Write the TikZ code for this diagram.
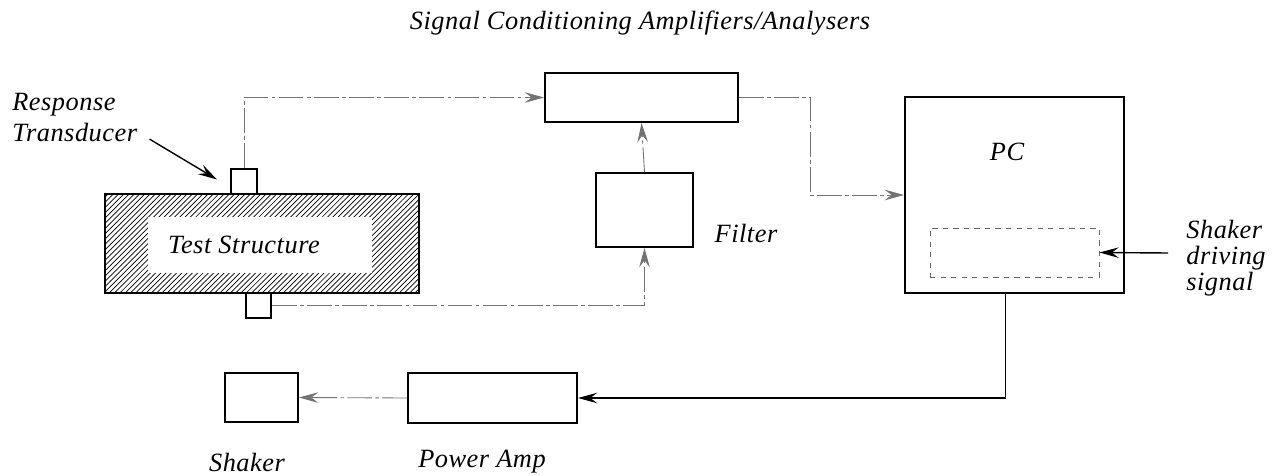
\documentclass[tikz,border=0pt]{standalone}
\usepackage{fontspec}
\setmainfont{Liberation Serif}[LetterSpace=2]
\usetikzlibrary{arrows.meta,patterns,calc}

\tikzset{
  box/.style={draw=black, line width=1.1pt, rectangle, inner sep=0pt},
  sig/.style={draw=black!55, line width=0.5pt, dash pattern=on 14pt off 2pt on 2pt off 2pt},
  lbl/.style={font=\fontsize{15}{17}\selectfont\itshape, inner sep=0pt},
  tip/.style={-{Stealth[length=11pt,width=6pt,inset=4pt]}}
}

\begin{document}
\begin{tikzpicture}[x=0.02cm,y=-0.02cm]
  \useasboundingbox (0,0) rectangle (1273,476);

  % title
  \node[lbl] (title) at (640,23) {Signal Conditioning Amplifiers/Analysers};

  % test structure with transducers
  \node[box, pattern=north east lines, minimum width=314*0.02cm, minimum height=99*0.02cm] (test) at (262,243.5) {};
  \node[fill=white, minimum width=224*0.02cm, minimum height=56*0.02cm] (core) at (260,245) {};
  \node[lbl] (testlbl) at (244,245) {Test Structure};
  \node[box, fill=white, minimum width=26*0.02cm, minimum height=25*0.02cm] (trtop) at (244,181.5) {};
  \node[box, fill=white, minimum width=25*0.02cm, minimum height=25*0.02cm] (trbot) at (258.5,305.5) {};
  \node[lbl, align=left, anchor=west, font=\fontsize{15}{17.6}\selectfont\itshape] (resp) at (12,117.5) {Response\\Transducer};

  % signal conditioning and filter
  \node[box, minimum width=193*0.02cm, minimum height=49*0.02cm] (sca) at (641.5,97.5) {};
  \node[box, minimum width=97*0.02cm, minimum height=74*0.02cm] (filter) at (644.5,210) {};
  \node[lbl] (filterlbl) at (746,233) {Filter};

  % PC
  \node[box, minimum width=219*0.02cm, minimum height=196*0.02cm] (pc) at (1014.5,195) {};
  \node[lbl] (pclbl) at (1007,152) {PC};
  \node[draw=black!60, line width=0.5pt, dashed, minimum width=169*0.02cm, minimum height=49*0.02cm] (pcdrv) at (1014.5,252.5) {};
  \node[lbl, align=left, anchor=west, font=\fontsize{15}{14.8}\selectfont\itshape] (drvlbl) at (1186,258) {Shaker\\driving\\signal};
  \coordinate (drvin) at (1168,253);

  % power amp and shaker
  \node[box, minimum width=169*0.02cm, minimum height=50*0.02cm] (amp) at (492.5,398) {};
  \node[lbl] (amplbl) at (482,462) {Power Amp};
  \node[box, minimum width=73*0.02cm, minimum height=49*0.02cm] (shaker) at (261.5,397.5) {};
  \node[lbl] (shakerlbl) at (247,462) {Shaker};

  % connectors
  \draw[line width=0.8pt, tip] ($(resp.south east)+(12,-3)$) -- ($(trtop.west)+(-13,-2)$);
  \draw[sig, tip] (trtop.north) |- (sca.west);
  \draw[sig, tip] (filter.north) -- (sca.south);
  \draw[sig, tip] (trbot.east) -| (filter.south);
  \draw[sig, tip] (sca.east) -- ++(71,0) |- (pc.west);
  \draw[line width=0.8pt, tip] (drvin) -- (pcdrv.east);
  \draw[line width=0.8pt, tip] ($(pc.south)+(-9,0)$) |- (amp.east);
  \draw[sig, tip] (amp.west) -- (shaker.east);
\end{tikzpicture}
\end{document}
